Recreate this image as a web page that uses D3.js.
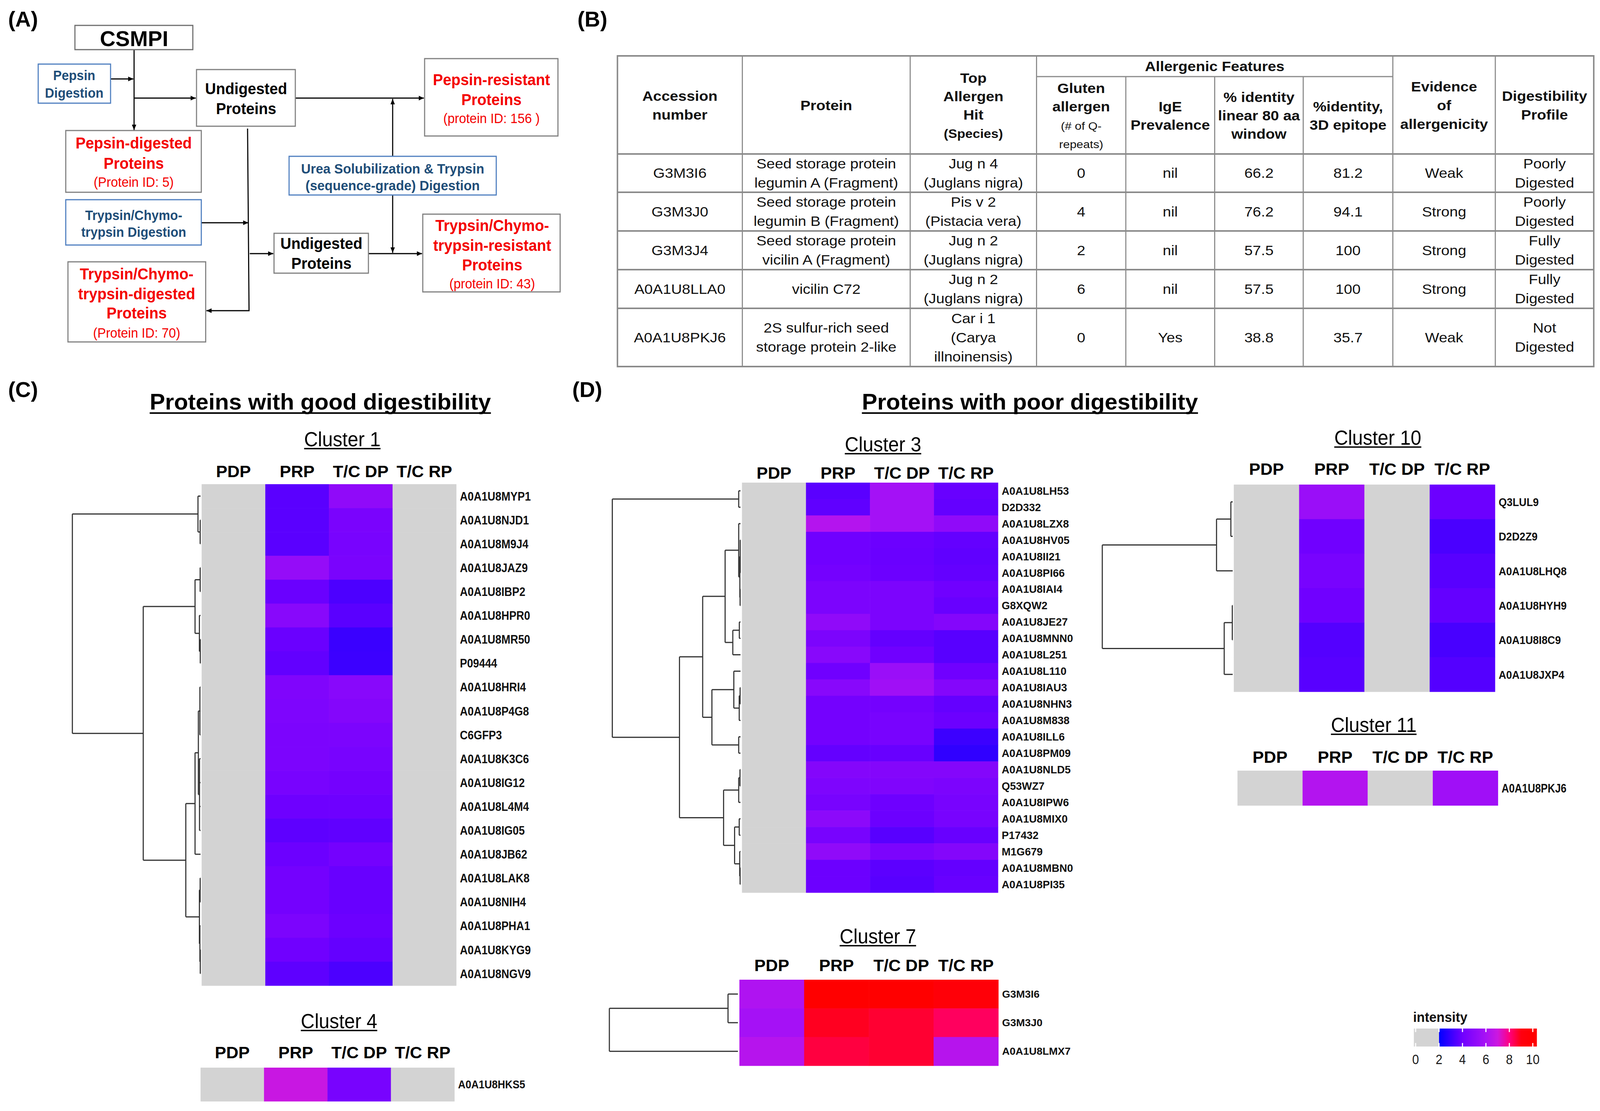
<!DOCTYPE html>
<html>
<head>
<meta charset="utf-8">
<script src="https://cdn.jsdelivr.net/npm/d3@7"></script>
<style>
  html, body { margin: 0; padding: 0; background: #fff; overflow: hidden; }
  svg { display: block; width: 100vw; height: 100vh; }
  text { font-family: "Liberation Sans", Arial, Helvetica, sans-serif; }
</style>
</head>
<body>
<div id="chart"></div>
<script>
// ---------- data ----------
const fractions = ["PDP", "PRP", "T/C DP", "T/C RP"];

// legend / colour key
const legendTicks = [0, 2, 4, 6, 8, 10];
const legendStops = [2, 4, 6, 7, 8, 9, 10];
const legendColors = ["#0000ff", "#7000ff", "#a812f5", "#cc18e0", "#ff0080", "#ff0010", "#ff0000"];

// cluster 1 (good digestibility)
const cluster1Proteins = ["A0A1U8MYP1", "A0A1U8NJD1", "A0A1U8M9J4", "A0A1U8JAZ9", "A0A1U8IBP2", "A0A1U8HPR0",
  "A0A1U8MR50", "P09444", "A0A1U8HRI4", "A0A1U8P4G8", "C6GFP3", "A0A1U8K3C6", "A0A1U8IG12", "A0A1U8L4M4",
  "A0A1U8IG05", "A0A1U8JB62", "A0A1U8LAK8", "A0A1U8NIH4", "A0A1U8PHA1", "A0A1U8KYG9", "A0A1U8NGV9"];
const cluster1Values = [
  [0, 3.61, 5.14, 0], [0, 3.61, 4.36, 0], [0, 3.61, 4.29, 0], [0, 5.32, 4.36, 0], [0, 3.89, 3.36, 0],
  [0, 4.86, 3.61, 0], [0, 3.89, 3.04, 0], [0, 3.75, 3.07, 0], [0, 4.57, 4.86, 0], [0, 4.5, 4.71, 0],
  [0, 4.43, 4.43, 0], [0, 4.43, 4.29, 0], [0, 4.29, 4.14, 0], [0, 3.96, 3.96, 0], [0, 3.68, 3.71, 0],
  [0, 3.93, 4.14, 0], [0, 4.14, 3.86, 0], [0, 4.14, 3.86, 0], [0, 4.43, 3.93, 0], [0, 4.0, 3.79, 0],
  [0, 3.68, 3.36, 0]];
const cluster1Tree = [10,
  [0.2, "A0A1U8MYP1", [0.03, "A0A1U8NJD1", "A0A1U8M9J4"]],
  [4.47,
    [0.43, [0.03, "A0A1U8JAZ9", "A0A1U8IBP2"], [0.09, "A0A1U8HPR0", [0.02, "A0A1U8MR50", "P09444"]]],
    [1.15,
      [0.43, [0.17, [0.05, "A0A1U8HRI4", "A0A1U8P4G8", "C6GFP3"],
                    [0.08, "A0A1U8K3C6", "A0A1U8IG12", "A0A1U8L4M4", "A0A1U8IG05"]], "A0A1U8JB62"],
      [0.09, [0.03, "A0A1U8LAK8", "A0A1U8NIH4"], [0.05, "A0A1U8PHA1", [0.02, "A0A1U8KYG9", "A0A1U8NGV9"]]]]]];

// cluster 4
const cluster4Proteins = ["A0A1U8HKS5"];
const cluster4Values = [[0, 6.9, 4.29, 0]];

// cluster 3 (poor digestibility)
const cluster3Proteins = ["A0A1U8LH53", "D2D332", "A0A1U8LZX8", "A0A1U8HV05", "A0A1U8II21", "A0A1U8PI66",
  "A0A1U8IAI4", "G8XQW2", "A0A1U8JE27", "A0A1U8MNN0", "A0A1U8L251", "A0A1U8L110", "A0A1U8IAU3",
  "A0A1U8NHN3", "A0A1U8M838", "A0A1U8ILL6", "A0A1U8PM09", "A0A1U8NLD5", "Q53WZ7", "A0A1U8IPW6",
  "A0A1U8MIX0", "P17432", "M1G679", "A0A1U8MBN0", "A0A1U8PI35"];
const cluster3Values = [
  [0, 3.61, 5.86, 3.86], [0, 3.71, 5.86, 3.79], [0, 6.33, 5.86, 5.14], [0, 4.0, 3.93, 3.79],
  [0, 4.0, 3.89, 3.71], [0, 4.14, 3.93, 3.79], [0, 4.43, 4.43, 4.0], [0, 4.43, 4.43, 3.86],
  [0, 5.14, 4.43, 4.71], [0, 4.43, 3.79, 3.57], [0, 4.86, 4.0, 3.57], [0, 4.0, 5.5, 4.0],
  [0, 4.86, 5.71, 4.71], [0, 4.14, 4.14, 3.79], [0, 4.14, 4.29, 3.93], [0, 4.14, 4.29, 3.07],
  [0, 3.79, 3.86, 2.86], [0, 4.71, 4.71, 4.71], [0, 4.5, 4.57, 4.43], [0, 4.29, 3.96, 4.29],
  [0, 5.0, 3.93, 4.29], [0, 4.29, 3.57, 3.86], [0, 5.14, 4.43, 4.71], [0, 3.93, 3.64, 3.79],
  [0, 3.93, 3.57, 3.86]];
const cluster3Tree = [10,
  [0.14, "A0A1U8LH53", "D2D332"],
  [4.76,
    [2.95,
      [1.2,
        [0.14, "A0A1U8LZX8", [0.05, [0.02, "A0A1U8HV05", "A0A1U8II21", "A0A1U8PI66"], [0.03, "A0A1U8IAI4", "G8XQW2"]]],
        [0.6, [0.09, "A0A1U8JE27", "A0A1U8MNN0"], "A0A1U8L251"]],
      [2.23,
        [0.52, "A0A1U8L110", [0.1, [0.03, "A0A1U8IAU3", "A0A1U8NHN3"], "A0A1U8M838"]],
        [0.14, "A0A1U8ILL6", "A0A1U8PM09"]]],
    [1.32,
      [0.14, [0.04, "A0A1U8NLD5", "Q53WZ7"], "A0A1U8IPW6"],
      [0.46, [0.1, "A0A1U8MIX0", "P17432"], [0.06, "M1G679", [0.03, "A0A1U8MBN0", "A0A1U8PI35"]]]]]];

// cluster 7
const cluster7Proteins = ["G3M3I6", "G3M3J0", "A0A1U8LMX7"];
const cluster7Values = [[6.2, 10, 10, 9.5], [5.9, 8.86, 8.7, 8.3], [6.4, 8.57, 8.7, 6.4]];
const cluster7Tree = [10, [0.77, "G3M3I6", "G3M3J0"], "A0A1U8LMX7"];

// cluster 10
const cluster10Proteins = ["Q3LUL9", "D2D2Z9", "A0A1U8LHQ8", "A0A1U8HYH9", "A0A1U8I8C9", "A0A1U8JXP4"];
const cluster10Values = [[0, 5.5, 0, 3.93], [0, 4.0, 0, 3.32], [0, 4.29, 0, 3.57],
  [0, 4.0, 0, 3.79], [0, 3.5, 0, 3.29], [0, 3.57, 0, 3.5]];
const cluster10Tree = [10, [1.24, [0.14, "Q3LUL9", "D2D2Z9"], "A0A1U8LHQ8"],
  [0.65, [0.03, "A0A1U8HYH9", "A0A1U8I8C9"], "A0A1U8JXP4"]];

// cluster 11
const cluster11Proteins = ["A0A1U8PKJ6"];
const cluster11Values = [[0, 6.3, 0, 5.7]];

// table (B)
const tableAccession = ["G3M3I6", "G3M3J0", "G3M3J4", "A0A1U8LLA0", "A0A1U8PKJ6"];
const tableProtein = [["Seed storage protein", "legumin A (Fragment)"], ["Seed storage protein", "legumin B (Fragment)"],
  ["Seed storage protein", "vicilin A (Fragment)"], ["vicilin C72"], ["2S sulfur-rich seed", "storage protein 2-like"]];
const tableAllergen = [["Jug n 4", "(Juglans nigra)"], ["Pis v 2", "(Pistacia vera)"], ["Jug n 2", "(Juglans nigra)"],
  ["Jug n 2", "(Juglans nigra)"], ["Car i 1", "(Carya", "illnoinensis)"]];
const tableGluten = ["0", "4", "2", "6", "0"];
const tableIgE = ["nil", "nil", "nil", "nil", "Yes"];
const tableLinear = ["66.2", "76.2", "57.5", "57.5", "38.8"];
const tableEpitope = ["81.2", "94.1", "100", "100", "35.7"];
const tableEvidence = ["Weak", "Strong", "Strong", "Strong", "Weak"];
const tableProfile = [["Poorly", "Digested"], ["Poorly", "Digested"], ["Fully", "Digested"], ["Fully", "Digested"], ["Not", "Digested"]];

// ---------- drawing ----------
// drawn in a 4356 x 2843 frame, stretched to whatever the window is
const svg = d3.select("#chart").append("svg")
  .attr("viewBox", "0 0 4356 2843")
  .attr("preserveAspectRatio", "none");
svg.append("rect").attr("width", 4356).attr("height", 2843).attr("fill", "#fff");

const heat = d3.scaleLinear().domain(legendStops).range(legendColors).clamp(true);
const fillFor = v => v < 2 ? "#d3d3d3" : heat(v);

function txt(g, x, y, s, size, o = {}) {
  const sx = o.sx || 1;
  const t = g.append("text")
    .attr("transform", `translate(${x},${y}) scale(${sx},1)`)
    .attr("text-anchor", o.anchor || "middle")
    .attr("font-size", size)
    .attr("font-weight", o.weight || "normal")
    .attr("fill", o.fill || "#000")
    .text(s);
  if (o.underline) {
    const w = t.node().getComputedTextLength() * sx;
    const x0 = o.anchor === "start" ? x : x - w / 2;
    g.append("line").attr("x1", x0).attr("x2", x0 + w)
      .attr("y1", y + o.underline).attr("y2", y + o.underline)
      .attr("stroke", "#000").attr("stroke-width", o.uw || 3);
  }
  return t;
}

// ---- panel A: flow chart ----
const RED = "#f40000", NAVY = "#1f4e79", BLUE = "#4f7fc0", GREY = "#808080";
const A = svg.append("g");
const defs = svg.append("defs");
defs.append("marker").attr("id", "arr").attr("viewBox", "0 0 14 12")
  .attr("markerUnits", "userSpaceOnUse").attr("markerWidth", 14).attr("markerHeight", 12)
  .attr("refX", 14).attr("refY", 6).attr("orient", "auto")
  .append("path").attr("d", "M0,0L14,6L0,12z").attr("fill", "#000");

function box(x, y, w, h, stroke) {
  A.append("rect").attr("x", x).attr("y", y).attr("width", w).attr("height", h)
    .attr("fill", "#fff").attr("stroke", stroke).attr("stroke-width", 3);
}
function arrow(pts) {
  A.append("path").attr("d", d3.line()(pts)).attr("fill", "none")
    .attr("stroke", "#000").attr("stroke-width", 3).attr("marker-end", "url(#arr)");
}

txt(svg, 22, 68, "(A)", 56, { anchor: "start", weight: "bold", sx: 1.05 });
txt(svg, 1572, 68, "(B)", 56, { anchor: "start", weight: "bold", sx: 1.05 });
txt(svg, 22, 1016, "(C)", 56, { anchor: "start", weight: "bold", sx: 1.05 });
txt(svg, 1558, 1016, "(D)", 56, { anchor: "start", weight: "bold", sx: 1.05 });

// connectors
arrow([[365, 127], [365, 333]]);
arrow([[301, 202], [363, 202]]);
arrow([[365, 251], [533, 251]]);
arrow([[804, 251], [1154, 251]]);
arrow([[1069, 400], [1069, 253]]);
arrow([[1069, 499], [1069, 647]]);
arrow([[674, 329], [678, 795], [562, 795]]);
arrow([[548, 570], [676, 570]]);
arrow([[680, 649], [744, 649]]);
arrow([[1003, 649], [1149, 649]]);

box(204, 65, 321, 62, "#6e6e6e");
txt(A, 365, 118, "CSMPI", 56, { weight: "bold", sx: 1.05 });
box(104, 164, 197, 100, BLUE);
txt(A, 202, 205, "Pepsin", 35, { weight: "bold", fill: NAVY });
txt(A, 202, 250, "Digestion", 35, { weight: "bold", fill: NAVY });
box(535, 178, 269, 145, GREY);
txt(A, 670, 241, "Undigested", 41, { weight: "bold" });
txt(A, 670, 292, "Proteins", 41, { weight: "bold" });
box(1156, 150, 363, 198, GREY);
txt(A, 1338, 218, "Pepsin-resistant", 41, { weight: "bold", fill: RED });
txt(A, 1338, 269, "Proteins", 41, { weight: "bold", fill: RED });
txt(A, 1338, 315, "(protein ID: 156 )", 35, { fill: RED });
box(179, 334, 369, 158, GREY);
txt(A, 364, 380, "Pepsin-digested", 41, { weight: "bold", fill: RED });
txt(A, 364, 432, "Proteins", 41, { weight: "bold", fill: RED });
txt(A, 364, 478, "(Protein ID: 5)", 35, { fill: RED });
box(787, 400, 564, 99, BLUE);
txt(A, 1069, 444, "Urea Solubilization & Trypsin", 35, { weight: "bold", fill: NAVY, sx: 1.03 });
txt(A, 1069, 487, "(sequence-grade) Digestion", 35, { weight: "bold", fill: NAVY, sx: 1.03 });
box(179, 511, 369, 116, BLUE);
txt(A, 364, 563, "Trypsin/Chymo-", 35, { weight: "bold", fill: NAVY });
txt(A, 364, 606, "trypsin Digestion", 35, { weight: "bold", fill: NAVY });
box(746, 597, 257, 102, GREY);
txt(A, 875, 637, "Undigested", 41, { weight: "bold" });
txt(A, 875, 688, "Proteins", 41, { weight: "bold" });
box(1151, 548, 374, 199, GREY);
txt(A, 1340, 591, "Trypsin/Chymo-", 41, { weight: "bold", fill: RED });
txt(A, 1340, 642, "trypsin-resistant", 41, { weight: "bold", fill: RED });
txt(A, 1340, 692, "Proteins", 41, { weight: "bold", fill: RED });
txt(A, 1340, 738, "(protein ID: 43)", 35, { fill: RED });
box(185, 670, 375, 205, GREY);
txt(A, 372, 715, "Trypsin/Chymo-", 41, { weight: "bold", fill: RED });
txt(A, 372, 766, "trypsin-digested", 41, { weight: "bold", fill: RED });
txt(A, 372, 815, "Proteins", 41, { weight: "bold", fill: RED });
txt(A, 372, 864, "(Protein ID: 70)", 35, { fill: RED });

// ---- panel B: table ----
const B = svg.append("g");
const colEdges = [1681, 2021, 2478, 2822, 3065, 3307, 3548, 3792, 4071, 4339];
const rowEdges = [143, 394, 492, 591, 690, 789, 938];
const TL = "#8a8a8a";
B.append("rect").attr("x", colEdges[0]).attr("y", rowEdges[0])
  .attr("width", colEdges[9] - colEdges[0]).attr("height", rowEdges[6] - rowEdges[0])
  .attr("fill", "none").attr("stroke", TL).attr("stroke-width", 4);
rowEdges.slice(1, 6).forEach(y => B.append("line").attr("x1", colEdges[0]).attr("x2", colEdges[9])
  .attr("y1", y).attr("y2", y).attr("stroke", TL).attr("stroke-width", 4));
B.append("line").attr("x1", colEdges[3]).attr("x2", colEdges[7]).attr("y1", 196).attr("y2", 196)
  .attr("stroke", TL).attr("stroke-width", 3);
colEdges.slice(1, 9).forEach((x, i) => {
  const j = i + 1;
  B.append("line").attr("x1", x).attr("x2", x).attr("y1", (j >= 4 && j <= 6) ? 196 : rowEdges[0])
    .attr("y2", rowEdges[6]).attr("stroke", TL).attr("stroke-width", 3);
});
const colMid = j => (colEdges[j] + colEdges[j + 1]) / 2;
function cell(j, mid, lines, size, weight, sp) {
  lines.forEach((s, k) => {
    const item = typeof s === "string" ? { s, size } : s;
    txt(B, colMid(j), mid + 12 - (lines.length - 1) * sp / 2 + k * sp, item.s, item.size,
      { weight: item.weight || weight, sx: 1.17, fill: "#111" });
  });
}
txt(B, (colEdges[3] + colEdges[7]) / 2, 182, "Allergenic Features", 35, { weight: "bold", sx: 1.17, fill: "#111" });
cell(0, 270, ["Accession", "number"], 35, "bold", 48);
cell(1, 270, ["Protein"], 35, "bold", 48);
cell(2, 270, ["Top", "Allergen", "Hit", { s: "(Species)", size: 31 }], 35, "bold", 47);
cell(3, 296, ["Gluten", "allergen", { s: "(# of Q-", size: 28, weight: "normal" }, { s: "repeats)", size: 28, weight: "normal" }], 35, "bold", 47);
cell(4, 296, ["IgE", "Prevalence"], 35, "bold", 47);
cell(5, 296, ["% identity", "linear 80 aa", "window"], 35, "bold", 47);
cell(6, 296, ["%identity,", "3D epitope"], 35, "bold", 47);
cell(7, 270, ["Evidence", "of", "allergenicity"], 35, "bold", 48);
cell(8, 270, ["Digestibility", "Profile"], 35, "bold", 48);
tableAccession.forEach((acc, r) => {
  const mid = (rowEdges[r + 1] + rowEdges[r + 2]) / 2;
  cell(0, mid, [acc], 35, "normal", 49);
  cell(1, mid, tableProtein[r], 35, "normal", 49);
  cell(2, mid, tableAllergen[r], 35, "normal", 49);
  cell(3, mid, [tableGluten[r]], 35, "normal", 49);
  cell(4, mid, [tableIgE[r]], 35, "normal", 49);
  cell(5, mid, [tableLinear[r]], 35, "normal", 49);
  cell(6, mid, [tableEpitope[r]], 35, "normal", 49);
  cell(7, mid, [tableEvidence[r]], 35, "normal", 49);
  cell(8, mid, tableProfile[r], 35, "normal", 49);
});

// ---- panels C / D: heatmaps ----
txt(svg, 872, 1048, "Proteins with good digestibility", 58, { weight: "bold", sx: 1.08, underline: 9, uw: 4 });
txt(svg, 2804, 1048, "Proteins with poor digestibility", 58, { weight: "bold", sx: 1.08, underline: 9, uw: 4 });

function drawCluster(c) {
  const g = svg.append("g");
  const x = d3.scaleBand().domain(fractions).range([c.x0, c.x1]);
  const y = d3.scaleBand().domain(c.proteins).range([c.y0, c.y1]);
  const cells = c.proteins.flatMap((p, i) => fractions.map((f, j) => ({ p, f, v: c.values[i][j] })));
  g.selectAll("rect").data(cells).enter().append("rect")
    .attr("x", d => x(d.f)).attr("y", d => y(d.p))
    .attr("width", x.bandwidth() + 0.6).attr("height", y.bandwidth() + 0.6)
    .attr("fill", d => fillFor(d.v));
  fractions.forEach(f => txt(g, x(f) + x.bandwidth() / 2, c.headY, f, 42, { weight: "bold", sx: 1.1 }));
  txt(g, c.titleX, c.titleY, c.title, 52, { underline: 6, uw: 3.5 });
  c.proteins.forEach(p => txt(g, c.x1 + 10, y(p) + y.bandwidth() / 2 + c.labelSize * 0.36, p, c.labelSize,
    { anchor: "start", weight: "bold", sx: c.labelSx, fill: "#111" }));

  if (!c.tree) return;
  const hx = d3.scaleLinear().domain([0, 10]).range([c.leafX, c.rootX]);
  const root = d3.hierarchy(c.tree, d => Array.isArray(d) ? d.slice(1) : null);
  root.eachAfter(n => {
    if (!n.children) { n.px = hx(0); n.py = y(n.data) + y.bandwidth() / 2; }
    else { n.px = hx(n.data[0]); n.py = (n.children[0].py + n.children[n.children.length - 1].py) / 2; }
  });
  const path = d3.path();
  root.each(n => {
    if (!n.children) return;
    path.moveTo(n.px, n.children[0].py);
    path.lineTo(n.px, n.children[n.children.length - 1].py);
    n.children.forEach(ch => { path.moveTo(n.px, ch.py); path.lineTo(ch.px, ch.py); });
  });
  g.append("path").attr("d", path.toString()).attr("fill", "none")
    .attr("stroke", "#333").attr("stroke-width", 3);
}

drawCluster({ title: "Cluster 1", proteins: cluster1Proteins, values: cluster1Values, tree: cluster1Tree,
  x0: 549, x1: 1242, y0: 1239, y1: 2522, headY: 1221, titleX: 932, titleY: 1142,
  labelSize: 31, labelSx: 0.95, leafX: 546, rootX: 197 });
drawCluster({ title: "Cluster 4", proteins: cluster4Proteins, values: cluster4Values,
  x0: 546, x1: 1237, y0: 2732, y1: 2818, headY: 2708, titleX: 923, titleY: 2631,
  labelSize: 29, labelSx: 0.97 });
drawCluster({ title: "Cluster 3", proteins: cluster3Proteins, values: cluster3Values, tree: cluster3Tree,
  x0: 2020, x1: 2717, y0: 1235, y1: 2284, headY: 1225, titleX: 2404, titleY: 1155,
  labelSize: 27, labelSx: 1.08, leafX: 2016, rootX: 1667 });
drawCluster({ title: "Cluster 7", proteins: cluster7Proteins, values: cluster7Values, tree: cluster7Tree,
  x0: 2013, x1: 2718, y0: 2507, y1: 2727, headY: 2485, titleX: 2390, titleY: 2414,
  labelSize: 25, labelSx: 1.15, leafX: 2009, rootX: 1659 });
drawCluster({ title: "Cluster 10", proteins: cluster10Proteins, values: cluster10Values, tree: cluster10Tree,
  x0: 3359, x1: 4070, y0: 1240, y1: 1770, headY: 1215, titleX: 3751, titleY: 1138,
  labelSize: 30, labelSx: 0.95, leafX: 3356, rootX: 3001 });
drawCluster({ title: "Cluster 11", proteins: cluster11Proteins, values: cluster11Values,
  x0: 3369, x1: 4078, y0: 1972, y1: 2061, headY: 1952, titleX: 3740, titleY: 1873,
  labelSize: 31, labelSx: 0.9 });

// ---- colour key ----
const L = svg.append("g");
const lx = d3.scaleLinear().domain([0, 10]).range([3854, 4173]);
const grad = defs.append("linearGradient").attr("id", "keygrad").attr("gradientUnits", "userSpaceOnUse")
  .attr("x1", lx(2)).attr("x2", lx(10)).attr("y1", 0).attr("y2", 0);
legendStops.forEach((v, i) => grad.append("stop").attr("offset", (v - 2) / 8).attr("stop-color", legendColors[i]));
L.append("rect").attr("x", lx(-0.15)).attr("y", 2632).attr("width", lx(2) - lx(-0.15)).attr("height", 46).attr("fill", "#d3d3d3");
L.append("rect").attr("x", lx(2)).attr("y", 2632).attr("width", lx(10.35) - lx(2)).attr("height", 46).attr("fill", "url(#keygrad)");
legendTicks.forEach(t => {
  L.append("line").attr("x1", lx(t)).attr("x2", lx(t)).attr("y1", 2632).attr("y2", 2641).attr("stroke", "#fff").attr("stroke-width", 3);
  L.append("line").attr("x1", lx(t)).attr("x2", lx(t)).attr("y1", 2669).attr("y2", 2678).attr("stroke", "#fff").attr("stroke-width", 3);
  txt(L, lx(t), 2723, String(t), 36, { sx: 0.92, fill: "#1a1a1a" });
});
txt(L, 3847, 2615, "intensity", 36, { anchor: "start", weight: "bold", fill: "#111" });
</script>
</body>
</html>
